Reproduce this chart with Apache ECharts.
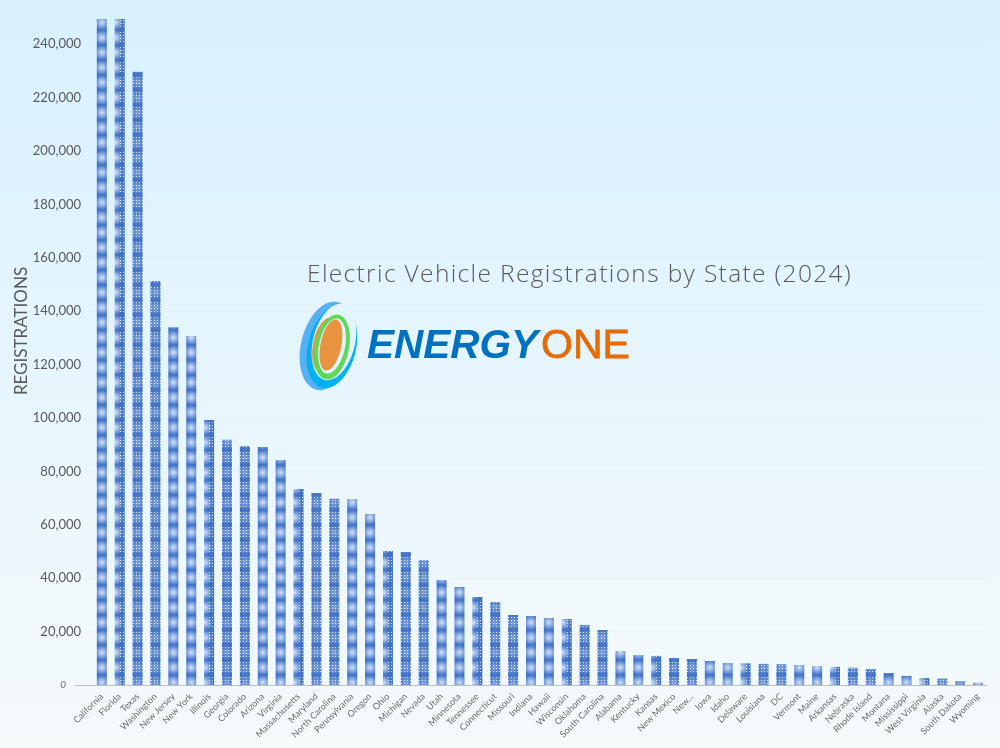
<!DOCTYPE html>
<html>
<head>
<meta charset="utf-8">
<style>
  html, body { margin: 0; padding: 0; }
  #main { width: 1000px; height: 748px; }
</style>
<script src="https://cdn.jsdelivr.net/npm/echarts@6/dist/echarts.min.js"></script>
</head>
<body>
<div id="main"></div>
<script>
// blank first slot: the axis line starts one category left of California
var states = ['', 'California', 'Florida', 'Texas', 'Washington', 'New Jersey', 'New York', 'Illinois', 'Georgia',
  'Colorado', 'Arizona', 'Virginia', 'Massachusetts', 'Maryland', 'North Carolina', 'Pennsylvania', 'Oregon',
  'Ohio', 'Michigan', 'Nevada', 'Utah', 'Minnesota', 'Tennessee', 'Connecticut', 'Missouri', 'Indiana', 'Hawaii',
  'Wisconsin', 'Oklahoma', 'South Carolina', 'Alabama', 'Kentucky', 'Kansas', 'New Mexico', 'New...', 'Iowa',
  'Idaho', 'Delaware', 'Louisiana', 'DC', 'Vermont', 'Maine', 'Arkansas', 'Nebraska', 'Rhode Island', 'Montana',
  'Mississippi', 'West Virginia', 'Alaska', 'South Dakota', 'Wyoming'];
var registrations = [null, 249400, 249400, 229600, 151300, 134000, 130700, 99200, 91800,
  89500, 89100, 84300, 73400, 71900, 69700, 69600, 64000,
  50200, 49800, 46800, 39300, 36700, 33000, 31100, 26200, 25800, 25100,
  24700, 22500, 20600, 12700, 11200, 10900, 10100, 9700, 9000,
  8200, 8100, 7900, 7800, 7500, 7100, 6800, 6500, 6000, 4500,
  3400, 2600, 2400, 1400, 900];
var axisMax = 249400;
var tickStep = 20000;

var greyText = '#595959';
var logoBack = '#e3f4fc';

// bar fill: blue tile with soft glows and clusters of white dots
function makeBarPattern() {
  var barStep = 17.88;
  var tile = document.createElement('canvas');
  tile.width = 447;
  tile.height = 15;
  var ctx = tile.getContext('2d');
  ctx.fillStyle = '#4272c8';
  ctx.fillRect(0, 0, 447, 15);
  for (var i = 0; i < 25; i++) {
    var cx = 12.5 + i * barStep;
    var kind = i % 5;
    var strong = kind !== 2 && kind !== 3;
    var glowX = cx + (kind === 1 ? -4 : 0);
    var g = ctx.createRadialGradient(glowX, 7.5, 0, glowX, 7.5, 7.5);
    var alpha = strong ? 0.9 : 0.4;
    g.addColorStop(0, 'rgba(225,238,255,' + alpha + ')');
    g.addColorStop(1, 'rgba(225,238,255,0)');
    ctx.fillStyle = g;
    ctx.fillRect(cx - 9, 0, 18, 15);
    if (kind !== 0 && kind !== 4) {
      ctx.fillStyle = 'rgba(255,255,255,0.8)';
      for (var y = 2; y < 14; y += 3) {
        for (var x = cx - 5 + (kind === 1 ? 5 : 0); x < cx + 5; x += 3) {
          ctx.fillRect(Math.round(x), y, 1, 1);
        }
      }
    }
  }
  return tile;
}

var chartDom = document.getElementById('main');
var myChart = echarts.init(chartDom);

var option = {
  animation: false,
  backgroundColor: new echarts.graphic.LinearGradient(0, 0, 0, 1, [
    { offset: 0, color: '#d8f1ff' },
    { offset: 1, color: '#f5fafb' }
  ]),
  grid: { left: 75, right: 13, top: 19, bottom: 63, outerBoundsMode: 'none' },
  title: {
    text: 'Electric Vehicle Registrations by State (2024)',
    left: 307,
    top: 263,
    padding: 0,
    zlevel: 1,
    textStyle: { color: greyText, fontFamily: 'Open Sans', fontWeight: 300, fontSize: 24.5 }
  },
  xAxis: {
    type: 'category',
    data: states,
    axisTick: { show: false },
    axisLine: { lineStyle: { color: '#bfbfbf', width: 1 } },
    axisLabel: {
      interval: 0,
      rotate: 45,
      margin: 10,
      fontSize: 9,
      fontFamily: 'Lato',
      color: '#6a6a6a'
    }
  },
  yAxis: {
    type: 'value',
    min: 0,
    max: axisMax,
    interval: tickStep,
    name: 'REGISTRATIONS',
    nameLocation: 'middle',
    nameRotate: 90,
    nameGap: 45,
    nameMoveOverlap: false,
    nameTextStyle: { color: greyText, fontFamily: 'Lato', fontSize: 17, padding: [0, 0, 0, 42] },
    axisLine: { show: false },
    axisTick: { show: false },
    splitLine: { lineStyle: { color: 'rgba(217,217,217,0.12)' } },
    axisLabel: {
      showMaxLabel: false,
      margin: -6,
      fontSize: 13,
      fontFamily: 'Lato',
      color: greyText,
      formatter: function (v) {
        return v === 0 ? '{zero|0}' : v.toLocaleString('en-US');
      },
      rich: {
        zero: { fontSize: 10, fontStyle: 'italic', fontFamily: 'Lato', color: '#6a6a6a', padding: [0, 15, 0, 0] }
      }
    }
  },
  graphic: [
    // logo: layered ellipses and the wordmark
    { type: 'ellipse', z: 10, x: 327, y: 346, rotation: -0.24, shape: { cx: 0, cy: 0, rx: 26, ry: 45 }, style: { fill: '#56b0f3' } },
    { type: 'ellipse', z: 11, x: 332, y: 347, rotation: -0.24, shape: { cx: 0, cy: 0, rx: 24, ry: 42 }, style: { fill: '#00b0f0' } },
    { type: 'ellipse', z: 12, x: 334, y: 342, rotation: -0.24, shape: { cx: 0, cy: 0, rx: 21, ry: 39 }, style: { fill: logoBack } },
    { type: 'ellipse', z: 13, x: 326, y: 345, rotation: -0.2, shape: { cx: 0, cy: 0, rx: 13, ry: 28 }, style: { fill: '#e8933f' } },
    { type: 'ellipse', z: 14, x: 332, y: 347, rotation: -0.2, shape: { cx: 0, cy: 0, rx: 17, ry: 33 }, style: { fill: '#5fd85a' } },
    { type: 'ellipse', z: 15, x: 332, y: 346, rotation: -0.2, shape: { cx: 0, cy: 0, rx: 13, ry: 28 }, style: { fill: logoBack } },
    { type: 'ellipse', z: 16, x: 331, y: 345, rotation: -0.2, shape: { cx: 0, cy: 0, rx: 10.5, ry: 26 }, style: { fill: '#e8933f' } },
    { type: 'text', z: 17, x: 367, y: 326, style: { text: 'ENERGY', fill: '#0070c0', font: 'italic bold 40.5px "Liberation Sans"' } },
    { type: 'text', z: 17, x: 541, y: 326, style: { text: 'ONE', fill: '#e36c09', stroke: '#e36c09', lineWidth: 0.8, font: '41px "Liberation Sans"' } }
  ],
  series: [
    {
      type: 'bar',
      data: registrations,
      barWidth: 10,
      clip: true,
      itemStyle: { color: { image: makeBarPattern(), repeat: 'repeat' } }
    }
  ]
};

myChart.setOption(option);
// the title sits on its own canvas layer so only it gets the wider tracking
var layers = chartDom.querySelectorAll('canvas');
if (layers.length > 1) layers[1].getContext('2d').letterSpacing = '1.35px';
myChart.setOption(option, true);
</script>
</body>
</html>
